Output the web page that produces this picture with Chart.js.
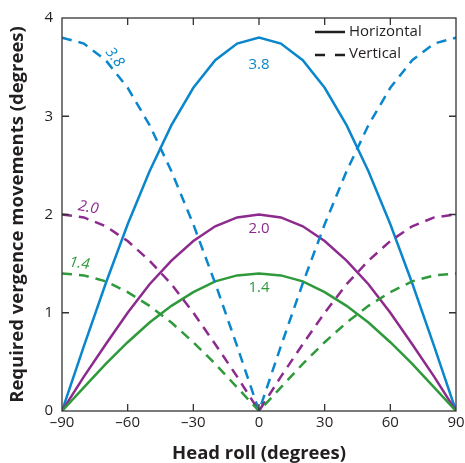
<!DOCTYPE html>
<html><head><meta charset="utf-8">
<script src="https://cdn.jsdelivr.net/npm/chart.js@4/dist/chart.umd.min.js"></script>
<style>html,body{margin:0;padding:0;background:#fff}#wrap{width:465px;height:463px}</style>
</head><body><div id="wrap"><canvas id="c" width="465" height="463"></canvas></div>
<script>
// ---- data ----
const headRoll = [-90,-80,-70,-60,-50,-40,-30,-20,-10,0,10,20,30,40,50,60,70,80,90];
const horizontal38 = [0,0.66,1.30,1.90,2.44,2.91,3.29,3.57,3.74,3.80,3.74,3.57,3.29,2.91,2.44,1.90,1.30,0.66,0];
const horizontal20 = [0,0.35,0.68,1.00,1.29,1.53,1.73,1.88,1.97,2.00,1.97,1.88,1.73,1.53,1.29,1.00,0.68,0.35,0];
const horizontal14 = [0,0.24,0.48,0.70,0.90,1.07,1.21,1.32,1.38,1.40,1.38,1.32,1.21,1.07,0.90,0.70,0.48,0.24,0];
const vertical38 = [3.80,3.74,3.57,3.29,2.91,2.44,1.90,1.30,0.66,0,0.66,1.30,1.90,2.44,2.91,3.29,3.57,3.74,3.80];
const vertical20 = [2.00,1.97,1.88,1.73,1.53,1.29,1.00,0.68,0.35,0,0.35,0.68,1.00,1.29,1.53,1.73,1.88,1.97,2.00];
const vertical14 = [1.40,1.38,1.32,1.21,1.07,0.90,0.70,0.48,0.24,0,0.24,0.48,0.70,0.90,1.07,1.21,1.32,1.38,1.40];
const amplitudeLabels = ['3.8','2.0','1.4'];
const xTicks = [-90,-60,-30,0,30,60,90];
const yTicks = [0,1,2,3,4];
const legendLabels = ['Horizontal','Vertical'];

const BLUE = '#0a86cc', PURPLE = '#8c2a8e', GREEN = '#2f9a3c', INK = '#231f20';
const FONT = '"Open Sans", "DejaVu Sans", sans-serif';
const DASH = [10, 7];

function pts(vals){ return headRoll.map((x,i)=>({x, y: vals[i]})); }
function ds(vals, color, dashed){
  return {data: pts(vals), borderColor: color, backgroundColor: color, borderWidth: 2.5,
    borderDash: dashed ? DASH : [], pointRadius: 0, tension: 0, fill: false};
}

const decor = {
  id: 'decor',
  afterDraw(chart){
    const {ctx, chartArea: a, scales: {x, y}} = chart;
    ctx.save();
    // frame
    ctx.strokeStyle = '#333'; ctx.lineWidth = 1.3;
    ctx.strokeRect(a.left, a.top, a.right - a.left, a.bottom - a.top);
    // inward ticks
    const TL = 7;
    ctx.beginPath();
    xTicks.forEach(v => { if (v === xTicks[0] || v === xTicks[xTicks.length-1]) return;
      const px = x.getPixelForValue(v);
      ctx.moveTo(px, a.bottom); ctx.lineTo(px, a.bottom - TL);
      ctx.moveTo(px, a.top); ctx.lineTo(px, a.top + TL); });
    yTicks.forEach(v => { if (v === yTicks[0] || v === yTicks[yTicks.length-1]) return;
      const py = y.getPixelForValue(v);
      ctx.moveTo(a.left, py); ctx.lineTo(a.left + TL, py);
      ctx.moveTo(a.right, py); ctx.lineTo(a.right - TL, py); });
    ctx.stroke();

    // legend
    ctx.lineWidth = 2.5; ctx.strokeStyle = INK;
    ctx.setLineDash([]);
    ctx.beginPath(); ctx.moveTo(315, 32); ctx.lineTo(345, 32); ctx.stroke();
    ctx.setLineDash([10, 10]);
    ctx.beginPath(); ctx.moveTo(315, 55); ctx.lineTo(345, 55); ctx.stroke();
    ctx.setLineDash([]);
    ctx.fillStyle = INK; ctx.font = '15px ' + FONT; ctx.textBaseline = 'middle'; ctx.textAlign = 'left';
    ctx.fillText(legendLabels[0], 349, 32);
    ctx.fillText(legendLabels[1], 349, 54);

    // curve labels
    const colors = [BLUE, PURPLE, GREEN];
    ctx.textAlign = 'center';
    ctx.font = '15px ' + FONT;
    const peakY = [3.52, 1.86, 1.25];
    amplitudeLabels.forEach((t, i) => {
      ctx.fillStyle = colors[i];
      ctx.fillText(t, x.getPixelForValue(0), y.getPixelForValue(peakY[i]));
    });
    ctx.font = 'italic 15px ' + FONT;
    const side = [{x:-66, y:3.6, r:52}, {x:-78, y:2.07, r:10}, {x:-82, y:1.5, r:8}];
    amplitudeLabels.forEach((t, i) => {
      ctx.save();
      ctx.fillStyle = colors[i];
      ctx.translate(x.getPixelForValue(side[i].x), y.getPixelForValue(side[i].y));
      ctx.rotate(side[i].r * Math.PI / 180);
      ctx.fillText(t, 0, 0);
      ctx.restore();
    });
    ctx.restore();
  }
};

new Chart(document.getElementById('c'), {
  type: 'line',
  data: { datasets: [
    ds(vertical14, GREEN, true), ds(vertical20, PURPLE, true), ds(vertical38, BLUE, true),
    ds(horizontal14, GREEN, false), ds(horizontal20, PURPLE, false), ds(horizontal38, BLUE, false)
  ]},
  options: {
    responsive: false, animation: false, devicePixelRatio: 1,
    layout: { padding: { top: 16, right: 0, left: 0, bottom: 0 } },
    plugins: { legend: { display: false }, tooltip: { enabled: false } },
    scales: {
      x: { type: 'linear', min: -90, max: 90,
        afterBuildTicks: s => { s.ticks = xTicks.map(v => ({value: v})); },
        afterFit: s => { s.height = 52; s.paddingRight = 9; },
        grid: { display: false, drawTicks: false }, border: { display: false },
        ticks: { padding: 3, color: INK, font: { family: FONT, size: 15 },
          callback: v => (v < 0 ? '\u2013' + Math.abs(v) : String(v)), maxRotation: 0 },
        title: { display: true, text: 'Head roll (degrees)', color: INK,
          font: { family: FONT, size: 18.5, weight: 'bold' }, padding: { top: 0, bottom: -2 } } },
      y: { type: 'linear', min: 0, max: 4,
        afterBuildTicks: s => { s.ticks = yTicks.map(v => ({value: v})); },
        afterFit: s => { s.width = 62; },
        grid: { display: false, drawTicks: false }, border: { display: false },
        ticks: { padding: 9, color: INK, font: { family: FONT, size: 15 } },
        title: { display: true, text: 'Required vergence movements (degrees)', color: INK,
          font: { family: FONT, size: 18.5, weight: 'bold' }, padding: { top: 7, bottom: 0 } } }
    }
  },
  plugins: [decor]
});
</script></body></html>
